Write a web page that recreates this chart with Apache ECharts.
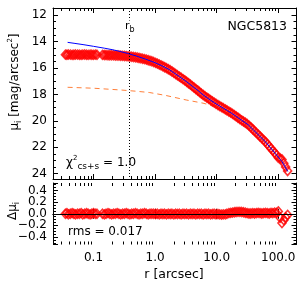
<!DOCTYPE html>
<html><head><meta charset="utf-8">
<script src="https://cdn.jsdelivr.net/npm/echarts@6/dist/echarts.min.js"></script>
<style>html,body{margin:0;padding:0;background:#fff}#c{width:300px;height:285px}</style>
</head><body><div id="c"></div>
<script>
// ---- data ----
const radii = [0.035,0.037,0.039,0.042,0.045,0.048,0.051,0.055,0.059,0.063,0.067,0.072,0.077,0.082,0.088,0.094,0.100,0.107,0.114,
 0.140,0.150,0.160,0.172,0.184,0.197,0.211,0.226,0.242,0.259,0.277,0.297,0.318,0.340,0.364,0.390,0.418,0.447,0.479,0.513,0.549,0.588,0.630,0.674,0.722,0.773,0.828,0.887,0.950,
 1.02,1.09,1.17,1.25,1.34,1.43,1.53,1.64,1.76,1.88,2.02,2.16,2.31,2.48,2.65,2.84,3.04,3.26,3.49,3.74,4.00,4.29,4.59,4.92,5.27,5.64,6.04,6.47,6.93,7.42,7.95,8.51,9.12,9.76,
 10.5,11.2,12.0,12.8,13.8,14.7,15.8,16.9,18.1,19.4,20.7,22.2,23.8,25.5,27.3,29.2,31.3,33.5,35.9,38.5,41.2,44.1,47.2,50.6,54.2,58.0,62.1,66.5,71.2,76.3,81.7,87.5,93.7,
 100.3,107.4,115.0,123.2,131.9,142.0];
const muObs = [14.99,15.00,14.98,14.99,15.01,15.00,14.98,14.99,15.00,15.01,14.99,14.98,15.00,15.01,14.99,15.00,15.01,14.99,15.00,
 15.01,15.02,15.02,15.03,15.03,15.04,15.04,15.05,15.06,15.06,15.07,15.08,15.09,15.10,15.12,15.13,15.15,15.17,15.19,15.21,15.24,15.27,15.30,15.33,15.37,15.41,15.45,15.49,15.55,
 15.61,15.67,15.74,15.80,15.87,15.94,16.01,16.09,16.17,16.26,16.36,16.46,16.55,16.65,16.74,16.84,16.94,17.04,17.15,17.26,17.37,17.48,17.59,17.70,17.82,17.93,18.04,18.14,18.24,18.33,18.43,18.53,18.62,18.71,
 18.80,18.88,18.96,19.04,19.13,19.21,19.30,19.38,19.47,19.57,19.66,19.76,19.86,19.96,20.05,20.14,20.24,20.36,20.49,20.63,20.77,20.90,21.04,21.18,21.32,21.45,21.59,21.76,21.92,22.09,22.25,22.41,22.58,
 22.79,22.84,22.92,23.21,23.49,23.79];
const residuals = [0.00,0.01,-0.01,0.00,0.01,0.00,-0.01,0.00,0.00,0.01,-0.01,0.00,0.01,0.00,-0.01,0.00,0.01,0.00,0.00,
 0.00,-0.01,0.00,0.01,0.00,-0.01,0.00,0.00,0.01,0.00,-0.01,0.00,0.00,0.01,0.00,-0.01,0.00,0.00,0.01,0.00,-0.01,0.00,0.00,0.01,0.00,-0.01,0.00,0.00,0.00,
 -0.005,0.00,-0.01,0.00,-0.005,0.00,-0.01,0.00,-0.005,0.00,-0.01,0.00,-0.005,0.00,-0.01,0.00,-0.005,0.00,-0.01,0.00,-0.005,0.00,-0.01,0.00,-0.005,0.00,-0.01,0.00,-0.005,0.00,-0.01,-0.005,0.00,-0.01,
 -0.005,-0.01,-0.015,-0.01,-0.01,0.00,0.01,0.015,0.02,0.025,0.03,0.032,0.032,0.03,0.025,0.018,0.01,0.005,0.005,0.01,0.005,0.01,0.015,0.01,0.005,0.01,0.015,0.01,0.005,0.015,0.01,0.02,0.015,
 0.04,-0.07,-0.16,-0.11,-0.06,-0.02];
const modelR = [0.038,0.05,0.07,0.1,0.15,0.2,0.26,0.36,0.5,0.7,0.89,1.0,1.26,1.7,2.0,2.5,3.2,4.0,5.0,6.0,7.5,9.3,11,13,15,17.4,20,25,32.6,40,50,61.2,75,90,100,115,130,143];
const modelMu = [14.06,14.14,14.24,14.36,14.50,14.61,14.73,14.90,15.10,15.33,15.51,15.60,15.81,16.12,16.35,16.66,17.01,17.37,17.71,18.03,18.35,18.65,18.86,19.06,19.23,19.42,19.61,19.93,20.30,20.71,21.15,21.56,22.04,22.48,22.74,23.08,23.50,23.83];
const sersicR = [0.038,0.1,0.27,0.5,0.82,1.5,3.2,6.0,11.2,15,20,30,40,50,62,75,90,100,115,130,143];
const sersicMu = [17.46,17.53,17.66,17.76,17.86,18.08,18.42,18.66,19.00,19.32,19.68,20.22,20.76,21.20,21.62,22.08,22.52,22.78,23.12,23.53,23.86];
const xTickValues = [0.1,1,10,100];
const xTickLabels = ['0.1','1.0','10.0','100.0'];
const xMinorTicks = [0.03,0.04,0.05,0.06,0.07,0.08,0.09,0.2,0.3,0.4,0.5,0.6,0.7,0.8,0.9,2,3,4,5,6,7,8,9,20,30,40,50,60,70,80,90];
const breakRadius = 0.375;
const galaxyName = 'NGC5813';
const chi2Value = '1.0';
const rmsValue = '0.017';

// ---- chart ----
const FONT = 'DejaVu Sans';
const zip = (a, b) => a.map((v, i) => [v, b[i]]);
const xLabel = v => { for (let i = 0; i < xTickValues.length; i++) if (Math.abs(v / xTickValues[i] - 1) < 1e-6) return xTickLabels[i]; return ''; };
const topYLabel = v => { const k = Math.round(v); return (Math.abs(v - k) < 1e-6 && k % 2 === 0) ? String(k) : ''; };
const botYLabel = v => { const k = Math.round(v * 10); if (Math.abs(v * 10 - k) > 1e-6 || k % 2) return ''; return k === 0 ? '0.0' : (k < 0 ? '\u2212' : '') + Math.abs(v).toFixed(1); };

const XMIN = 0.022, XMAX = 198;
function xAx(grid, pos, labels) {
  return { type: 'log', logBase: 10, gridIndex: grid, position: pos, min: XMIN, max: XMAX,
    axisLine: { show: true, lineStyle: { color: '#000', width: 1 } },
    axisTick: { show: true, inside: true, length: 5, lineStyle: { color: '#000' } },
    splitLine: { show: false },
    axisLabel: { show: labels, formatter: xLabel, color: '#000', fontFamily: FONT, fontSize: 12, margin: 7 } };
}
function yAx(grid, pos, labels, min, max, inverse, fmt) {
  return { type: 'value', gridIndex: grid, position: pos, min: min, max: max, inverse: inverse, splitNumber: 6,
    axisLine: { show: true, lineStyle: { color: '#000', width: 1 } },
    axisTick: { show: true, inside: true, length: 5, lineStyle: { color: '#000' } },
    minorTick: { show: true, splitNumber: 4, length: 3, lineStyle: { color: '#000' } },
    splitLine: { show: false },
    axisLabel: { show: labels, formatter: fmt, color: '#000', fontFamily: FONT, fontSize: 12, margin: 6, showMinLabel: true, showMaxLabel: true } };
}
function minorSeries(grid, xi, yi, yref) {
  return { type: 'custom', xAxisIndex: xi, yAxisIndex: yi, silent: true, z: 5,
    data: xMinorTicks.map(v => [v, yref]),
    renderItem: (params, api) => {
      const x = Math.round(api.coord([api.value(0), api.value(1)])[0]) + 0.5;
      const cs = params.coordSys;
      const yb = cs.y + cs.height, yt = cs.y;
      return { type: 'group', children: [
        { type: 'line', shape: { x1: x, y1: yb, x2: x, y2: yb - 3 }, style: { stroke: '#000', lineWidth: 1 } },
        { type: 'line', shape: { x1: x, y1: yt, x2: x, y2: yt + 3 }, style: { stroke: '#000', lineWidth: 1 } } ] };
    } };
}

const chart = echarts.init(document.getElementById('c'), null, { renderer: 'canvas' });
const txt = { fontFamily: FONT, fill: '#000' };
const pointStyle = { color: 'rgba(0,0,0,0)', borderColor: '#ff0000', borderWidth: 1.6 };
chart.setOption({
  animation: false,
  backgroundColor: '#fff',
  grid: [
    { left: 53, top: 8, width: 243.5, height: 171 },
    { left: 53, top: 183, width: 243.5, height: 61.5 }
  ],
  xAxis: [ xAx(0, 'bottom', false), xAx(0, 'top', false), xAx(1, 'bottom', true), xAx(1, 'top', false) ],
  yAxis: [
    yAx(0, 'left', true, 11.46, 24.4, true, topYLabel),
    yAx(0, 'right', false, 11.46, 24.4, true, topYLabel),
    yAx(1, 'left', true, -0.53, 0.53, false, botYLabel),
    yAx(1, 'right', false, -0.53, 0.53, false, botYLabel)
  ],
  series: [
    { type: 'line', xAxisIndex: 0, yAxisIndex: 0, data: zip(sersicR, sersicMu), showSymbol: false, silent: true, z: 2,
      lineStyle: { color: '#ff7f3a', width: 1, type: [5, 4] } },
    { type: 'scatter', xAxisIndex: 0, yAxisIndex: 0, data: zip(radii, muObs), symbol: 'diamond', symbolSize: [8, 9], silent: true, z: 3,
      itemStyle: pointStyle,
      markLine: { silent: true, symbol: 'none', label: { show: false }, lineStyle: { type: [1, 2], color: '#000', width: 1 }, data: [{ xAxis: breakRadius }] } },
    { type: 'line', xAxisIndex: 0, yAxisIndex: 0, data: zip(modelR, modelMu), showSymbol: false, silent: true, z: 4,
      lineStyle: { color: '#0000ff', width: 1 } },
    { type: 'scatter', xAxisIndex: 2, yAxisIndex: 2, data: zip(radii, residuals), symbol: 'diamond', symbolSize: [8, 9], silent: true, z: 3,
      itemStyle: pointStyle,
      markLine: { silent: true, symbol: 'none', label: { show: false }, lineStyle: { type: 'solid', color: '#000', width: 1 }, data: [{ yAxis: 0 }] } },
    minorSeries(0, 0, 0, 15),
    minorSeries(1, 2, 2, 0)
  ],
  graphic: [
    { type: 'text', x: 287, y: 27, z: 10, style: Object.assign({ text: galaxyName, fontSize: 12.5, align: 'right', verticalAlign: 'middle' }, txt) },
    { type: 'text', x: 125, y: 27, z: 10, style: Object.assign({ text: '{a|r}{s|b}', align: 'left', verticalAlign: 'middle', backgroundColor: '#fff',
        rich: { a: { fontFamily: FONT, fontSize: 11, lineHeight: 13, verticalAlign: 'top' }, s: { fontFamily: FONT, fontSize: 8, lineHeight: 9, verticalAlign: 'bottom' } } }, txt) },
    { type: 'text', x: 66, y: 163, z: 10, style: Object.assign({ text: '{a|\u03c7}{p|2}{s|cs+s}{a| = ' + chi2Value + '}', align: 'left', verticalAlign: 'middle',
        rich: { a: { fontFamily: FONT, fontSize: 12, lineHeight: 16 }, p: { fontFamily: FONT, fontSize: 7, lineHeight: 9, verticalAlign: 'top' }, s: { fontFamily: FONT, fontSize: 9, lineHeight: 10, verticalAlign: 'bottom' } } }, txt) },
    { type: 'text', x: 68, y: 231.5, z: 10, style: Object.assign({ text: 'rms = ' + rmsValue, fontSize: 12, align: 'left', verticalAlign: 'middle' }, txt) },
    { type: 'text', x: 15, y: 82, rotation: Math.PI / 2, z: 10, style: Object.assign({ text: '{a|\u03bc}{s|i}{a| [mag/arcsec}{p|2}{a|]}', align: 'center', verticalAlign: 'middle',
        rich: { a: { fontFamily: FONT, fontSize: 12, lineHeight: 16 }, s: { fontFamily: FONT, fontSize: 8, lineHeight: 10, verticalAlign: 'bottom' }, p: { fontFamily: FONT, fontSize: 7, lineHeight: 10, verticalAlign: 'top' } } }, txt) },
    { type: 'text', x: 13, y: 211, rotation: Math.PI / 2, z: 10, style: Object.assign({ text: '{a|\u0394\u03bc}{s|i}', align: 'center', verticalAlign: 'middle',
        rich: { a: { fontFamily: FONT, fontSize: 12, lineHeight: 16 }, s: { fontFamily: FONT, fontSize: 8, lineHeight: 10, verticalAlign: 'bottom' } } }, txt) },
    { type: 'text', x: 174, y: 275, z: 10, style: Object.assign({ text: 'r [arcsec]', fontSize: 12.5, align: 'center', verticalAlign: 'middle' }, txt) }
  ]
});
</script></body></html>
